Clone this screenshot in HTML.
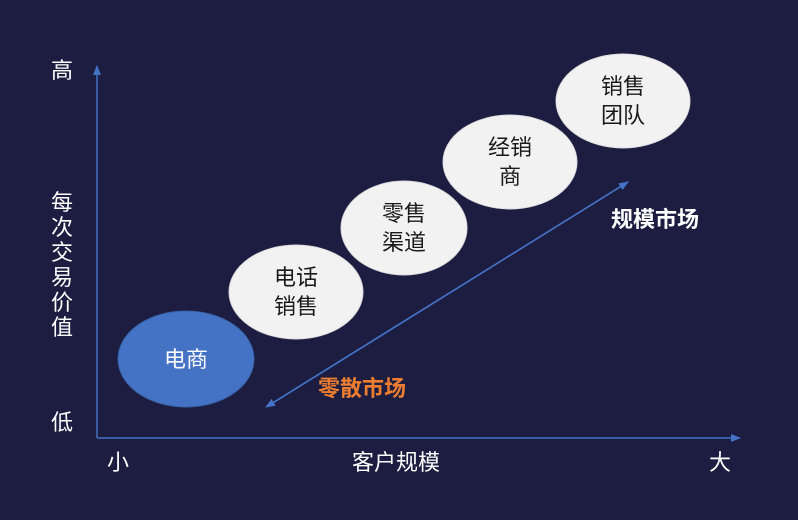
<!DOCTYPE html>
<html><head><meta charset="utf-8"><style>
body{margin:0;background:#1c1d40;}
svg{display:block}
text{font-family:"Liberation Sans","Noto Sans CJK SC",sans-serif;}
</style></head><body>
<svg width="798" height="520" viewBox="0 0 798 520">
<rect width="798" height="520" fill="#1c1d40"/>
<defs>
<marker id="a" markerWidth="10" markerHeight="8" refX="9" refY="4" orient="auto" markerUnits="userSpaceOnUse"><path d="M0,0 L10,4 L0,8 Z" fill="#4472c4"/></marker>
</defs>
<line x1="97" y1="438" x2="97" y2="66" stroke="#4472c4" stroke-width="1.5" marker-end="url(#a)"/>
<line x1="97" y1="438" x2="740" y2="438" stroke="#4472c4" stroke-width="1.5" marker-end="url(#a)"/>
<line x1="268" y1="406" x2="628" y2="182" stroke="#4472c4" stroke-width="1.5" marker-end="url(#a)"/>
<line x1="628" y1="182" x2="266" y2="407" stroke="#4472c4" stroke-width="1.5" marker-end="url(#a)"/>
<g font-size="22" fill="#fff" text-anchor="middle">
<text x="62" y="78">高</text>
<text x="62" y="430">低</text>
<text x="62" y="210">每</text><text x="62" y="235">次</text><text x="62" y="260">交</text><text x="62" y="285">易</text><text x="62" y="310">价</text><text x="62" y="335">值</text>
<text x="118" y="470">小</text>
<text x="396" y="470">客户规模</text>
<text x="720" y="470">大</text>
</g>
<ellipse cx="186" cy="359" rx="68" ry="48" fill="#4472c4" stroke="#3a62a8" stroke-width="1"/>
<g fill="#f2f2f2" stroke="#ddd" stroke-width="1">
<ellipse cx="296" cy="292" rx="67" ry="47"/>
<ellipse cx="404" cy="228" rx="63" ry="47"/>
<ellipse cx="510" cy="162" rx="67" ry="47"/>
<ellipse cx="623" cy="101" rx="67" ry="47"/>
</g>
<g font-size="22" text-anchor="middle" fill="#1a1a1a">
<text x="186" y="367" fill="#fff">电商</text>
<text x="296" y="285">电话</text><text x="296" y="314">销售</text>
<text x="404" y="221">零售</text><text x="404" y="250">渠道</text>
<text x="510" y="155">经销</text><text x="510" y="184">商</text>
<text x="623" y="94">销售</text><text x="623" y="123">团队</text>
</g>
<text x="655" y="227" font-size="22" font-weight="bold" fill="#fff" text-anchor="middle">规模市场</text>
<text x="362" y="396" font-size="22" font-weight="bold" fill="#ed7d31" text-anchor="middle">零散市场</text>
</svg>
</body></html>
